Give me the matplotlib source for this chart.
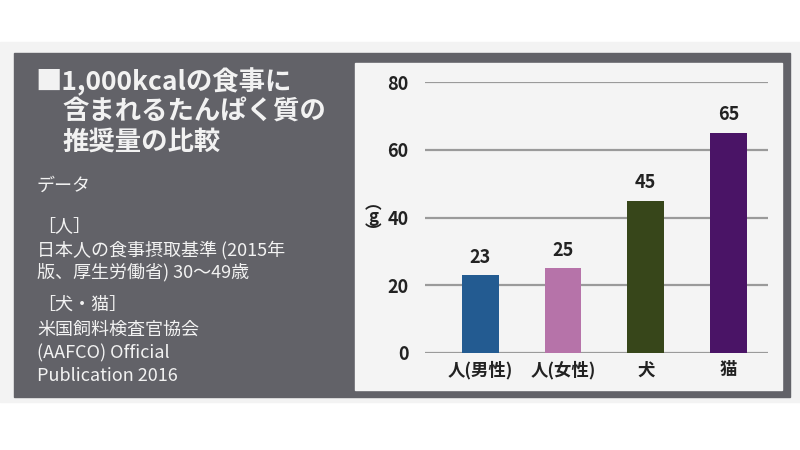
import matplotlib.pyplot as plt
from matplotlib.patches import Rectangle

plt.rcParams['font.family'] = ['Noto Sans CJK JP', 'DejaVu Sans']

categories = ["人(男性)", "人(女性)", "犬", "猫"]
values = [23, 25, 45, 65]
colors = ["#235b91", "#b673a9", "#37461a", "#4a1466"]
yticks = [0, 20, 40, 60, 80]

W, H = 800, 450
fig = plt.figure(figsize=(8, 4.5), dpi=100)
fig.patch.set_facecolor("white")

def box(x0, y0, x1, y1, color):
    # pixel coords, y from top
    fig.patches.append(Rectangle((x0 / W, 1 - y1 / H), (x1 - x0) / W, (y1 - y0) / H,
                                 transform=fig.transFigure, color=color, zorder=-5))

box(0, 42, 800, 402, "#f3f3f3")
box(14, 53, 790, 397, "#626268")
box(355, 63, 782, 390, "#f4f4f4")

# left text
tc = "#f2f2f2"
fig.text(35 / W, 1 - 82 / H, "■1,000kcalの食事に", color=tc, fontsize=19, fontweight="bold", va="center")
fig.text(62 / W, 1 - 112 / H, "含まれるたんぱく質の", color=tc, fontsize=19, fontweight="bold", va="center")
fig.text(62 / W, 1 - 142 / H, "推奨量の比較", color=tc, fontsize=19, fontweight="bold", va="center")
fig.text(37 / W, 1 - 186 / H, "データ", color=tc, fontsize=13, va="center")
lines = [("［人］", 226), ("日本人の食事摂取基準 (2015年", 250), ("版、厚生労働省) 30〜49歳", 272),
         ("［犬・猫］", 305), ("米国飼料検査官協会", 330), ("(AAFCO) Official", 353),
         ("Publication 2016", 376)]
for s, y in lines:
    fig.text(37 / W, 1 - y / H, s, color=tc, fontsize=13, va="center")

# chart
ax = fig.add_axes([425 / W, 1 - 353 / H, (768 - 425) / W, (353 - 82) / H])
ax.set_facecolor("none")
x = range(len(categories))
ax.bar(x, values, width=0.44, color=colors, zorder=3)
for i, v in enumerate(values):
    ax.text(i, v + 2.5, str(v), ha="center", va="bottom", fontsize=13, fontweight="bold", color="#222222")
ax.set_ylim(0, 80)
ax.set_xlim(-0.67, 3.48)
ax.set_yticks(yticks)
ax.set_yticklabels([str(t) for t in yticks], fontsize=13, fontweight="bold", color="#222222")
ax.set_xticks(list(x))
ax.set_xticklabels(categories, fontsize=12.5, fontweight="bold", color="#222222")
ax.yaxis.grid(True, color="#9a9a9a", linewidth=1.6, zorder=0)
ax.tick_params(length=0, pad=12)
ax.tick_params(axis="x", pad=6)
for s in ax.spines.values():
    s.set_visible(False)
for s, y in [("︵", 204), ("g", 217), ("︶", 232)]:
    fig.text(373 / W, 1 - y / H, s, fontsize=12, fontweight="bold",
             color="#222222", ha="center", va="center")

fig.savefig("out.png", dpi=100)
